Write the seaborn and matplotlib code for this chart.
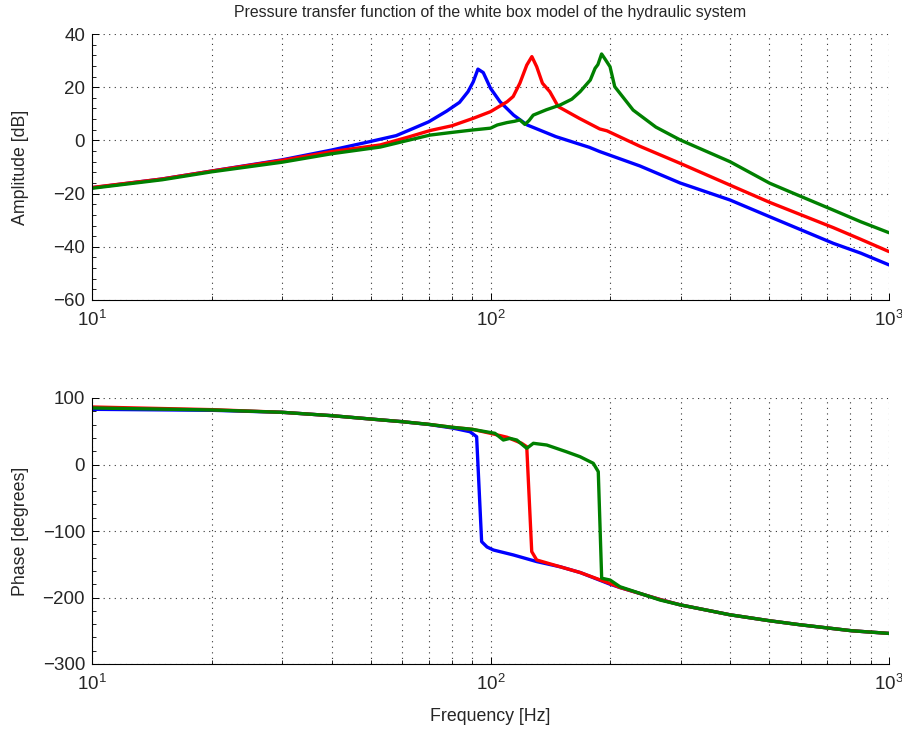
import numpy as np
import pandas as pd
import seaborn as sns
import matplotlib
matplotlib.use("Agg")
import matplotlib.pyplot as plt
from matplotlib.ticker import LogLocator, MultipleLocator, NullFormatter

# ---------------- data ----------------
series_names = ["blue", "red", "green"]
series_colors = {"blue": "#0000ff", "red": "#ff0000", "green": "#008000"}

amp_f_blue = [10, 15, 20, 30, 40, 50, 58, 64, 70, 77.6, 83.6, 87.8, 90.5, 93, 95.9,
              100, 105.7, 114.3, 123.6, 146, 177, 188, 237, 299, 399, 502, 725, 850, 1000]
amp_blue = [-17.8, -14.5, -11.5, -7.3, -3.6, -0.4, 1.8, 4.5, 7.0, 11.0, 14.3, 18.3, 22.0, 26.8, 25.5,
            19.6, 14.5, 9.5, 5.8, 1.4, -2.6, -4.2, -9.6, -16.0, -22.4, -28.7, -38.7, -42.4, -46.8]

amp_f_red = [10, 15, 20, 30, 40, 52.9, 62, 70.5, 80, 90.5, 100, 110, 114, 118.5, 123.3, 127,
             130.6, 135, 140.9, 147.9, 167, 188, 196, 237, 299, 399, 502, 725, 850, 1000]
amp_red = [-17.7, -14.5, -11.5, -7.5, -4.2, -1.7, 1.2, 3.7, 5.5, 8.3, 10.8, 14.5, 16.5, 21.5, 28.3, 31.5,
           27.7, 21.5, 18.3, 12.7, 8.3, 4.3, 3.6, -2.2, -8.6, -16.8, -23.3, -32.8, -37.2, -41.8]

amp_f_green = [10, 15, 20, 30, 40, 52.9, 62, 70.5, 80, 90, 100, 104, 110, 115, 118.5, 122, 125,
               128, 138, 149.5, 160, 167.8, 178, 183, 186, 190, 194, 199.5, 205, 228, 260, 299,
               399, 502, 604, 725, 850, 1000]
amp_green = [-18.0, -14.8, -11.8, -8.2, -5.0, -2.5, 0.0, 2.0, 3.0, 3.9, 4.6, 5.8, 6.7, 7.2, 7.7, 6.0, 7.5,
             9.5, 11.5, 13.3, 15.5, 18.3, 22.7, 27.1, 28.5, 32.5, 30.5, 27.7, 20.2, 11.4, 5.0, 0.2,
             -8.0, -16.1, -21.2, -26.2, -30.6, -34.7]

ph_f_blue = [10, 20, 30, 40, 50, 60, 70, 80, 88.8, 92.3, 95.0, 98, 101.7, 114.1, 130.6, 150,
             168, 199.5, 211.3, 266.3, 299, 399, 502, 598, 806, 1000]
ph_blue = [83.0, 81.5, 78.5, 73.4, 68.4, 64.4, 60.2, 55.0, 49.3, 41.8, -116, -124, -128.6, -136, -146, -154,
           -162.5, -180, -185, -203, -211, -226, -235, -241, -250, -254]

ph_f_red = [10, 20, 30, 40, 50, 60, 70, 80, 90, 100, 110, 119.7, 123.3, 126.9, 130.6, 150,
            168, 199.5, 211.3, 266.3, 299, 399, 502, 598, 806, 1000]
ph_red = [86.5, 82.5, 78.5, 73.4, 68.4, 64.4, 60.4, 56.0, 52.9, 46.9, 41.0, 31.9, 26.8, -131, -143.6, -154,
          -162.5, -179, -185, -203, -211, -226, -235, -241, -250, -254]

ph_f_green = [10, 20, 30, 40, 50, 60, 70, 80, 90, 102.6, 107.7, 111.9, 116.4, 123.3, 128.1, 138.4,
              155, 167.8, 181.1, 186.4, 190.1, 199.5, 211.3, 266.3, 299, 399, 502, 598, 806, 1000]
ph_green = [85.0, 82.0, 78.5, 73.4, 68.4, 64.4, 60.4, 56.0, 52.9, 46.9, 36.8, 39.3, 36.8, 24.3, 31.9, 29.3,
            19.2, 11.7, 1.8, -10.8, -171, -173.7, -183.8, -203.8, -211, -226, -235, -241, -250, -254]

title_text = "Pressure transfer function of the white box model of the hydraulic system"
amp_label = "Amplitude [dB]"
phase_label = "Phase [degrees]"
freq_label = "Frequency [Hz]"

# ---------------- long-form tables ----------------
def long_table(pairs):
    frames = []
    for name, (f, v) in pairs.items():
        frames.append(pd.DataFrame({"series": name, "freq": f, "value": v}))
    return pd.concat(frames, ignore_index=True)

amp_df = long_table({"blue": (amp_f_blue, amp_blue),
                     "red": (amp_f_red, amp_red),
                     "green": (amp_f_green, amp_green)})
ph_df = long_table({"blue": (ph_f_blue, ph_blue),
                    "red": (ph_f_red, ph_red),
                    "green": (ph_f_green, ph_green)})

# ---------------- style ----------------
sns.set_style("ticks")
plt.rcParams["font.family"] = ["Liberation Sans", "DejaVu Sans"]
plt.rcParams["font.size"] = 12
plt.rcParams["xtick.direction"] = "in"
plt.rcParams["ytick.direction"] = "in"

W, H = 903, 729
fig = plt.figure(figsize=(W / 100, H / 100), dpi=100)
ax1 = fig.add_axes([92 / W, 1 - 300 / H, 797 / W, 266 / H])
ax2 = fig.add_axes([92 / W, 1 - 664 / H, 797 / W, 266 / H])

def style_axis(ax, ylim, ymajor, yminor):
    ax.set_xscale("log")
    ax.set_xlim(10, 1000)
    ax.set_ylim(*ylim)
    ax.yaxis.set_major_locator(MultipleLocator(ymajor))
    ax.yaxis.set_minor_locator(MultipleLocator(yminor))
    ax.xaxis.set_major_locator(LogLocator(base=10))
    ax.xaxis.set_minor_locator(LogLocator(base=10, subs=np.arange(2, 10)))
    ax.xaxis.set_minor_formatter(NullFormatter())
    for s in ["top", "right"]:
        ax.spines[s].set_visible(False)
    for s in ["left", "bottom"]:
        ax.spines[s].set_color("black")
        ax.spines[s].set_linewidth(0.8)
    ax.tick_params(which="major", length=5, width=0.7, color="black", labelsize=13.5)
    ax.tick_params(axis="x", which="major", pad=7)
    ax.tick_params(axis="y", which="major", pad=5)
    ax.tick_params(which="minor", length=3, width=0.6, color="black")
    grid_kw = dict(linestyle=(0, (1, 4)), color="black", linewidth=0.8, alpha=0.8)
    ax.grid(which="major", axis="both", **grid_kw)
    ax.grid(which="minor", axis="x", **grid_kw)
    ax.set_axisbelow(True)

for ax, df in [(ax1, amp_df), (ax2, ph_df)]:
    sns.lineplot(data=df, x="freq", y="value", hue="series",
                 estimator=None, sort=False, palette=series_colors,
                 hue_order=series_names, linewidth=2.4, legend=False, ax=ax)

style_axis(ax1, (-60, 40), 20, 4)
style_axis(ax2, (-300, 100), 100, 20)

ax1.set_title(title_text, fontsize=11.4, pad=12)
ax1.set_ylabel(amp_label, fontsize=12.8)
ax1.set_xlabel("")
ax2.set_ylabel(phase_label, fontsize=12.8)
ax2.set_xlabel(freq_label, fontsize=12.8)
ax1.yaxis.set_label_coords(-0.090, 0.5)
ax2.yaxis.set_label_coords(-0.090, 0.5)
ax2.xaxis.set_label_coords(0.5, -0.199)
ax2.xaxis.label.set_va("center")
ax1.yaxis.label.set_va("center")
ax2.yaxis.label.set_va("center")

fig.savefig("out.png", dpi=100)
